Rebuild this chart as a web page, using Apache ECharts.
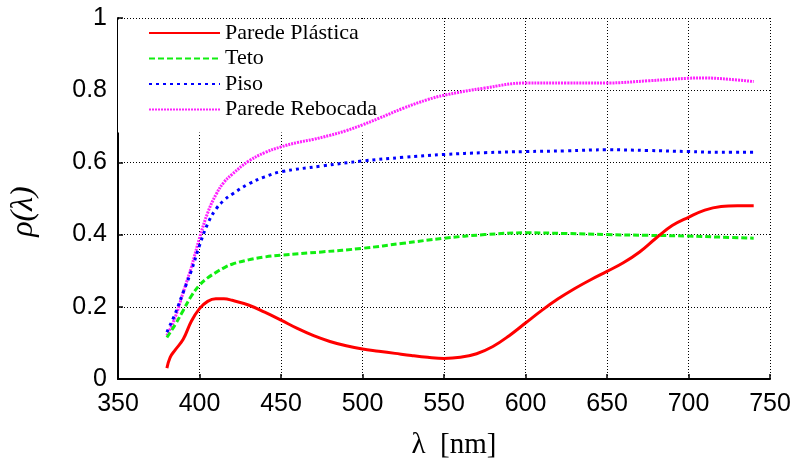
<!DOCTYPE html>
<html><head><meta charset="utf-8">
<script src="https://cdn.jsdelivr.net/npm/echarts@6/dist/echarts.min.js"></script>
<style>html,body{margin:0;padding:0;background:#fff}#c{width:796px;height:465px}</style>
</head><body><div id="c"></div>
<script>
var seriesNames = ['Parede Plástica', 'Teto', 'Piso', 'Parede Rebocada'];
var xTicks = [350, 400, 450, 500, 550, 600, 650, 700, 750];
var yTicks = [0, 0.2, 0.4, 0.6, 0.8, 1];

var plasticX = [380,382,385,390,395,400,405,410,415,420,430,440,450,460,470,480,490,500,510,520,530,540,550,560,570,580,590,600,610,620,630,640,650,660,670,680,690,700,710,720,730,740];
var plasticY = [0.03,0.06,0.08,0.11,0.16,0.195,0.215,0.222,0.222,0.218,0.205,0.185,0.163,0.14,0.12,0.104,0.092,0.083,0.077,0.071,0.065,0.06,0.057,0.06,0.07,0.09,0.12,0.155,0.19,0.222,0.25,0.275,0.298,0.322,0.352,0.39,0.425,0.448,0.468,0.478,0.48,0.48];

var tetoX = [380,385,390,395,400,405,410,415,420,430,440,450,475,500,525,550,575,600,625,650,675,700,720,740];
var tetoY = [0.115,0.15,0.19,0.23,0.26,0.28,0.295,0.308,0.318,0.33,0.338,0.343,0.352,0.362,0.376,0.39,0.4,0.405,0.403,0.4,0.398,0.396,0.393,0.39];

var pisoX = [380,385,390,395,400,405,410,415,420,430,440,450,475,500,525,550,575,600,625,650,675,700,720,740];
var pisoY = [0.13,0.18,0.24,0.3,0.37,0.43,0.47,0.495,0.512,0.54,0.56,0.574,0.59,0.604,0.614,0.622,0.627,0.63,0.632,0.635,0.633,0.63,0.628,0.628];

var rebocX = [380,385,390,395,400,405,410,415,420,430,440,450,460,470,480,490,500,510,525,540,550,575,600,625,650,675,700,710,725,740];
var rebocY = [0.12,0.17,0.24,0.31,0.39,0.46,0.51,0.545,0.567,0.603,0.627,0.643,0.655,0.664,0.675,0.688,0.704,0.722,0.75,0.774,0.786,0.806,0.82,0.82,0.82,0.826,0.833,0.834,0.83,0.824];

function pairs(xs, ys) { return xs.map(function (x, i) { return [x, ys[i]]; }); }

var chart = echarts.init(document.getElementById('c'), null, {renderer: 'canvas'});
var gridLine = {show: true, lineStyle: {color: '#000', type: [1, 2], width: 1}};
var serif = '"Liberation Serif", "Times New Roman", serif';
var sans = '"Liberation Sans", Arial, sans-serif';
chart.setOption({
  animation: false,
  backgroundColor: '#fff',
  grid: {left: 116, right: 26, top: 18, bottom: 83, containLabel: false},
  graphic: [{
    type: 'rect', z: 1, silent: true,
    shape: {x: 118, y: 19.5, width: 310, height: 113},
    style: {fill: '#fff'}
  }],
  legend: {
    orient: 'vertical', left: 118, top: 19,
    padding: [3, 51, 14, 30],
    itemWidth: 71, itemHeight: 12, itemGap: 3.5,
    itemStyle: {opacity: 0},
    data: seriesNames,
    textStyle: {fontFamily: serif, fontSize: 22, color: '#000', lineHeight: 22}
  },
  xAxis: {
    type: 'value', min: 350, max: 750, interval: 50,
    name: 'λ  [nm]', nameLocation: 'middle', nameGap: 52,
    nameTextStyle: {fontFamily: serif, fontSize: 29, color: '#000', padding: [0, 0, 0, 20]},
    axisLine: {lineStyle: {color: '#000', width: 2}},
    axisTick: {inside: true, length: 5, lineStyle: {color: '#000', width: 1.5}},
    axisLabel: {fontFamily: sans, fontSize: 25, color: '#000', margin: 13,
      formatter: function (v) { return xTicks.indexOf(v) >= 0 ? String(v) : ''; }},
    splitLine: gridLine
  },
  yAxis: {
    type: 'value', min: 0, max: 1, interval: 0.2,
    name: 'ρ(λ)', nameLocation: 'middle', nameGap: 78,
    nameTextStyle: {fontFamily: serif, fontStyle: 'italic', fontSize: 32, color: '#000', padding: [0, 26, 0, 0]},
    axisLine: {show: true, lineStyle: {color: '#000', width: 2}},
    axisTick: {show: true, inside: true, length: 5, lineStyle: {color: '#000', width: 1.5}},
    axisLabel: {fontFamily: sans, fontSize: 25, color: '#000', margin: 11,
      formatter: function (v) { var t = yTicks.find(function (k) { return Math.abs(k - v) < 1e-9; }); return t === undefined ? '' : String(t); }},
    splitLine: gridLine
  },
  series: [
    {name: seriesNames[0], type: 'line', symbol: 'none', smooth: 0.4, z: 5,
      data: pairs(plasticX, plasticY), itemStyle: {color: '#ff0000'},
      lineStyle: {color: '#ff0000', width: 3, type: 'solid'}},
    {name: seriesNames[1], type: 'line', symbol: 'none', smooth: 0.4, z: 4,
      data: pairs(tetoX, tetoY), itemStyle: {color: '#11ee11'},
      lineStyle: {color: '#11ee11', width: 3, type: [6, 3]}},
    {name: seriesNames[2], type: 'line', symbol: 'none', smooth: 0.4, z: 3,
      data: pairs(pisoX, pisoY), itemStyle: {color: '#0000ff'},
      lineStyle: {color: '#0000ff', width: 3, type: [3, 4]}},
    {name: seriesNames[3], type: 'line', symbol: 'none', smooth: 0.4, z: 2,
      data: pairs(rebocX, rebocY), itemStyle: {color: '#ff22ff'},
      lineStyle: {color: '#ff22ff', width: 3, type: [2, 1]}}
  ]
});
</script></body></html>
